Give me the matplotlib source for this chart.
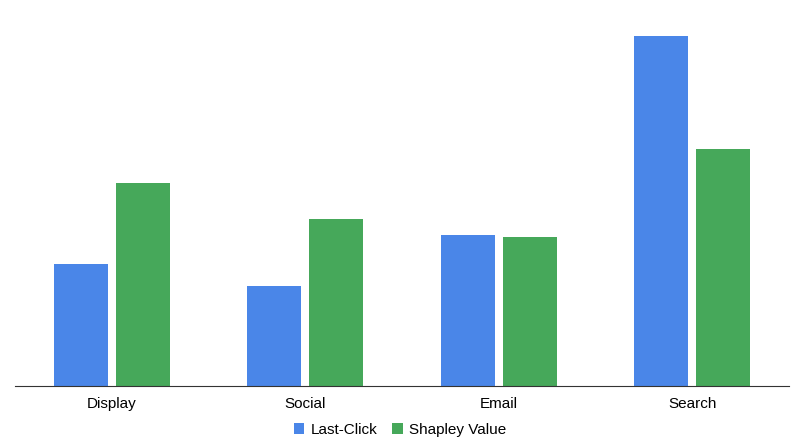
import matplotlib.pyplot as plt
import numpy as np

categories = ["Display", "Social", "Email", "Search"]
last_click = [122, 100, 151, 350]
shapley = [203, 167, 149, 237]

fig = plt.figure(figsize=(8, 4.47), dpi=100)
ax = fig.add_axes([15/800, 1-386/447, 774/800, (386-20)/447])
x = np.arange(len(categories))
w = 0.28
ax.bar(x - 0.16, last_click, w, color="#4a86e8", label="Last-Click")
ax.bar(x + 0.16, shapley, w, color="#46a85a", label="Shapley Value")
ax.set_xlim(-0.5, 3.5)
ax.set_ylim(0, 366)
ax.set_xticks(x)
ax.set_xticklabels(categories, fontsize=11, family="Liberation Sans")
ax.tick_params(axis="x", length=0, pad=8)
ax.set_yticks([])
for s in ["top", "right", "left"]:
    ax.spines[s].set_visible(False)
ax.spines["bottom"].set_color("#333333")
fig.legend(loc="center", bbox_to_anchor=(0.5, 1-430/447), ncol=2, frameon=False,
           prop={"family": "Liberation Sans", "size": 11}, handlelength=0.7,
           handleheight=0.7, handletextpad=0.4, columnspacing=1.0)
fig.savefig("out.png")
